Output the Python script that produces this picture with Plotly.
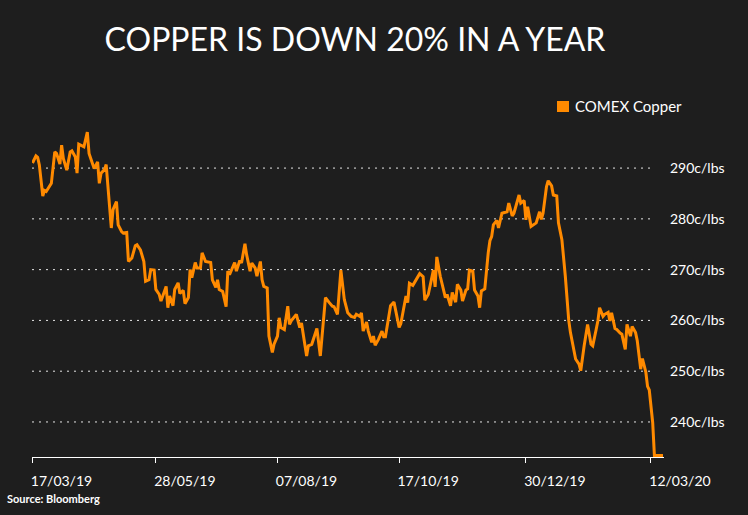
import pandas as pd
import plotly.graph_objects as go

# ---- data ----
start_date = "2019-03-17"
# calendar days after 17/03/19 for each observation
days = [0, 2, 3, 4, 6, 7, 8, 11, 13, 14,
        16, 17, 18, 20, 22, 23, 25, 26, 27, 30,
        32, 33, 35, 36, 38, 39, 40, 42, 43, 45,
        46, 47, 49, 50, 52, 53, 55, 56, 58, 60,
        61, 63, 65, 66, 68, 69, 71, 72, 74, 75,
        78, 79, 80, 82, 83, 85, 86, 88, 89, 91,
        92, 93, 95, 96, 98, 99, 101, 104, 105, 107,
        108, 109, 111, 113, 114, 115, 116, 118, 119, 121,
        122, 124, 125, 127, 128, 130, 131, 133, 134, 135,
        137, 138, 140, 141, 143, 144, 145, 147, 149, 150,
        151, 154, 156, 157, 160, 161, 163, 166, 168, 171,
        173, 175, 176, 178, 180, 182, 183, 184, 186, 188,
        189, 191, 192, 193, 195, 196, 198, 199, 200, 202,
        204, 205, 206, 208, 209, 211, 214, 215, 217, 218,
        219, 220, 222, 223, 226, 228, 229, 231, 232, 234,
        235, 236, 238, 239, 241, 242, 244, 245, 247, 248,
        250, 251, 253, 254, 255, 257, 258, 260, 261, 262,
        264, 266, 267, 268, 269, 271, 272, 274, 275, 277,
        278, 280, 281, 284, 285, 287, 288, 289, 291, 294,
        296, 297, 298, 300, 301, 303, 304, 306, 307, 309,
        311, 313, 314, 317, 319, 320, 322, 324, 326, 327,
        329, 330, 331, 333, 334, 336, 337, 338, 340, 341,
        343, 344, 346, 347, 349, 350, 352, 353, 355, 356,
        358, 359, 360, 362, 363, 368]

copper_cents = [291.0, 292.4, 292.1, 290.6, 284.5, 285.6, 285.4, 287.0, 293.2, 292.9,
                290.8, 294.5, 291.9, 289.6, 293.2, 293.4, 292.2, 289.0, 294.7, 294.2,
                297.1, 292.9, 290.9, 289.9, 291.2, 287.0, 289.0, 289.7, 290.7, 281.8,
                278.2, 281.8, 283.4, 278.8, 277.5, 277.2, 277.3, 271.6, 272.3, 274.7,
                274.9, 273.9, 271.6, 267.7, 268.0, 270.0, 269.9, 266.1, 265.1, 263.8,
                266.7, 262.5, 264.8, 262.9, 266.1, 267.4, 265.3, 265.9, 263.3, 264.5,
                270.0, 268.4, 271.4, 270.3, 270.3, 273.3, 271.6, 271.4, 268.0, 266.5,
                268.0, 266.1, 265.7, 262.7, 269.7, 269.0, 269.7, 271.4, 269.7, 271.8,
                271.3, 275.1, 272.9, 269.7, 271.3, 270.3, 268.7, 271.6, 268.0, 266.7,
                266.4, 256.9, 253.7, 255.3, 256.9, 260.5, 258.6, 258.2, 262.8, 259.2,
                259.9, 261.2, 258.6, 259.5, 253.0, 255.0, 255.3, 258.4, 253.0, 264.5,
                263.6, 262.8, 262.7, 261.2, 269.9, 264.1, 262.8, 261.5, 260.8, 260.6,
                261.2, 260.8, 261.5, 257.9, 259.7, 257.9, 255.7, 256.9, 255.1, 256.3,
                257.9, 256.8, 256.8, 261.5, 262.9, 263.6, 258.6, 259.4, 263.5, 264.8,
                263.5, 267.3, 266.9, 267.5, 269.2, 268.6, 264.0, 265.1, 266.6, 269.9,
                266.6, 272.5, 268.7, 267.1, 264.5, 265.1, 262.9, 265.5, 263.6, 267.1,
                266.0, 263.8, 266.0, 266.2, 269.9, 269.7, 266.0, 264.8, 262.5, 265.8,
                266.2, 273.3, 275.7, 276.5, 278.8, 279.7, 278.2, 281.1, 281.2, 281.4,
                283.1, 280.6, 281.1, 284.7, 283.1, 283.6, 279.8, 282.4, 278.5, 279.2,
                281.4, 279.9, 281.1, 286.3, 287.5, 286.5, 284.7, 284.5, 279.2, 275.9,
                268.7, 260.0, 257.6, 252.4, 251.4, 250.1, 255.0, 259.2, 255.3, 255.0,
                258.2, 259.9, 262.5, 260.8, 261.2, 261.6, 259.9, 261.5, 258.4, 258.2,
                257.5, 257.3, 254.3, 259.2, 256.9, 258.8, 257.6, 256.0, 250.4, 252.5,
                249.8, 247.0, 246.3, 239.9, 233.4, 233.4]

assert len(days) == len(copper_cents)

tick_dates = ["2019-03-17", "2019-05-28", "2019-08-07", "2019-10-17", "2019-12-30", "2020-03-12"]
y_ticks = [240, 250, 260, 270, 280, 290]
y_tick_labels = ["240c/lbs", "250c/lbs", "260c/lbs", "270c/lbs", "280c/lbs", "290c/lbs"]
series_name = "COMEX Copper"
title_text = "COPPER IS DOWN 20% IN A YEAR"
source_text = "Source: Bloomberg"

# ---- figure ----
start = pd.Timestamp(start_date)
dates = start + pd.to_timedelta(days, unit="D")

ORANGE = "#ff8a00"
BG = "#1e1e1e"
FONT = "Lato"

fig = go.Figure()
fig.add_trace(go.Scatter(x=dates, y=copper_cents, mode="lines", name=series_name,
                         line=dict(color=ORANGE, width=3), showlegend=False))

# dotted horizontal guides
for v in y_ticks:
    fig.add_shape(type="line", xref="paper", x0=0, x1=0.981, yref="y", y0=v, y1=v,
                  line=dict(color="#e6e6e6", width=1, dash="2px,5px"), layer="below")

# legend swatch + label
fig.add_shape(type="rect", xref="paper", yref="paper", x0=0.8307, x1=0.8497,
              y0=1.055, y1=1.0887, fillcolor=ORANGE, line=dict(width=0))
fig.add_annotation(text=series_name, xref="paper", yref="paper", x=0.856, y=1.0719,
                   xanchor="left", yanchor="middle", showarrow=False,
                   font=dict(family=FONT, size=15, color="white"))
fig.add_annotation(text="<b>" + source_text + "</b>", xref="paper", yref="paper",
                   x=-0.0425, y=-0.1284, xanchor="left", yanchor="middle", showarrow=False,
                   font=dict(family=FONT, size=11, color="white"))

x_range = [(start - pd.Timedelta(hours=7)).isoformat(),
           (start + pd.Timedelta(days=368.6)).isoformat()]

fig.update_layout(
    width=748, height=515,
    margin=dict(l=32, r=84, t=130, b=58, autoexpand=False),
    paper_bgcolor=BG, plot_bgcolor=BG,
    font=dict(family=FONT, color="white"),
    showlegend=False,
    title=dict(text=title_text, x=0.4746, xanchor="center", y=0.922, yanchor="middle",
               font=dict(family=FONT, size=32, color="white")),
    xaxis=dict(type="date", range=x_range, tickvals=tick_dates, tickformat="%d/%m/%y",
               ticks="outside", ticklen=5, tickwidth=1, tickcolor="white",
               showline=True, linecolor="white", linewidth=1, automargin=False,
               showgrid=False, zeroline=False, layer="below traces",
               tickfont=dict(family=FONT, size=14, color="white"),
               ticklabelstandoff=6, ticklabelshift=29),
    yaxis=dict(side="right", range=[233.1, 297.5], tickvals=y_ticks, ticktext=y_tick_labels,
               showgrid=False, zeroline=False, showline=False, ticks="", automargin=False,
               tickfont=dict(family=FONT, size=14, color="white"), ticklabelstandoff=5),
)

fig.write_html("out.html", config={"displayModeBar": False},
               post_script="document.body.style.margin='0';")
